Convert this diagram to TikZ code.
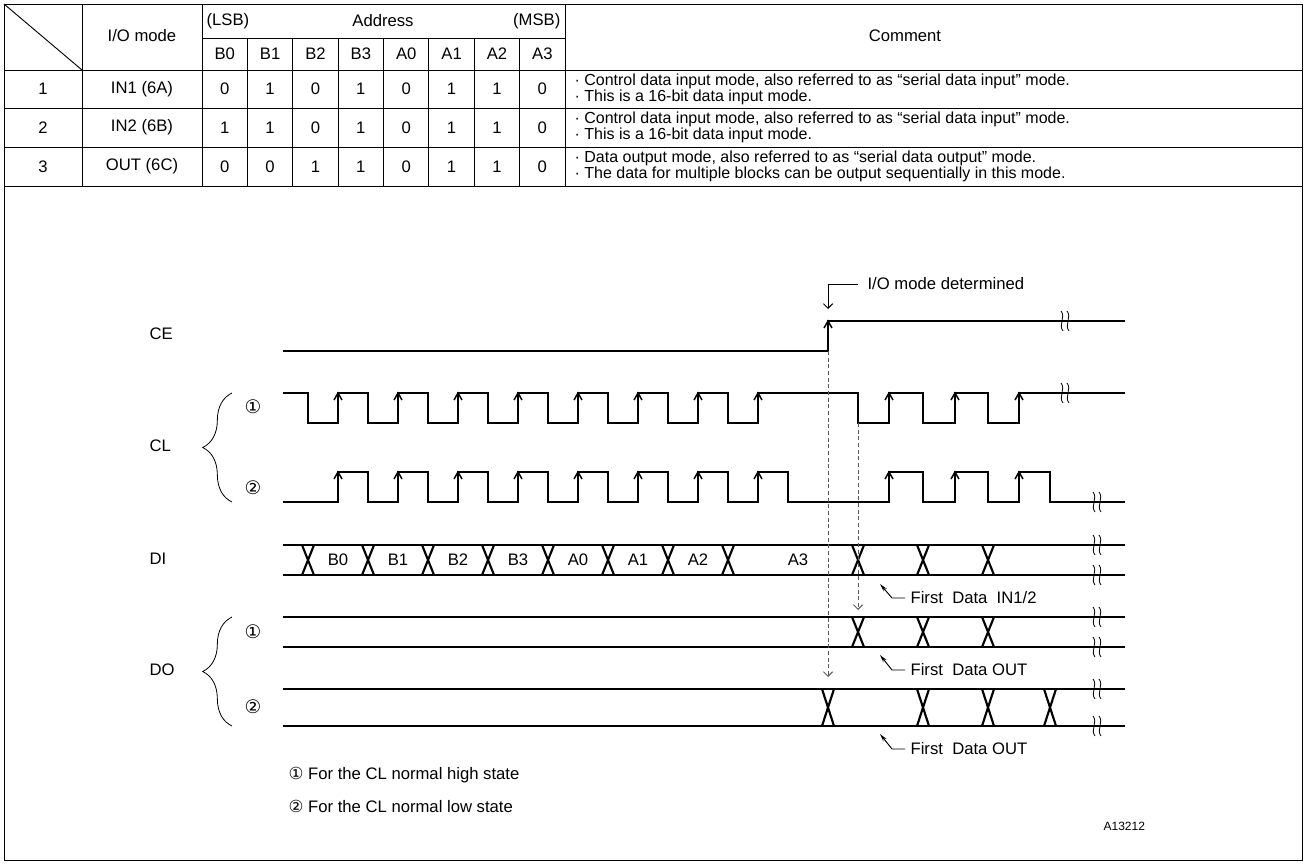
\documentclass[tikz,border=0pt]{standalone}
\usepackage{fontspec}
\setmainfont{Liberation Sans}
\newfontfamily\circfont{DejaVu Sans}
\usetikzlibrary{arrows.meta,decorations.pathreplacing}

\begin{document}
\begin{tikzpicture}[x=0.75pt, y=-0.75pt,
    font=\fontsize{12.5}{14}\selectfont,
    every node/.style={inner sep=1pt},
    rule/.style={line width=0.7pt},
    sig/.style={line width=1.6pt},
    guide/.style={densely dashed, line width=0.7pt, black!65, -{Straight Barb[length=3.5pt,width=7pt]}},
    leader/.style={line width=0.7pt},
    memo/.style={anchor=west, align=left, font=\fontsize{12}{11}\selectfont},
    tag/.style={anchor=west, inner xsep=4pt},
    circmark/.style={font=\circfont\fontsize{14}{14}\selectfont},
    lbrace/.style={decorate, decoration={brace, amplitude=22pt}, line width=0.6pt},
    upedge/.pic={\draw[line width=1.1pt] (-4,7) -- (0,0) -- (4,7);},
    brk/.pic={\foreach \dx in {-3,3} \draw[line width=0.6pt] ({\dx-1},-10) .. controls ({\dx+4},-4) and ({\dx-4},4) .. ({\dx+1},10);}]

  \useasboundingbox (0,0) rectangle (1308,864);

  % Frame
  \draw[rule] (4,4) rectangle (1302,860);

  % Table rules
  \draw[rule] (4,70) -- (1302,70) (4,108) -- (1302,108) (4,147) -- (1302,147) (4,186) -- (1302,186);
  \draw[rule] (202,38) -- (565,38);
  \draw[rule] (82,4) -- (82,186) (202,4) -- (202,186) (565,4) -- (565,186);
  \foreach \i in {1,...,7} \draw[rule] ({202+45.375*\i},38) -- ({202+45.375*\i},186);
  \draw[rule] (4,4) -- (82,70);

  % Header
  \node (modehead) at (142,36) {I/O mode};
  \node[anchor=west] (lsb) at (205,21) {(LSB)};
  \node (addrhead) at (383,21) {Address};
  \node[anchor=east] (msb) at (562,21) {(MSB)};
  \node (commenthead) at (905,36) {Comment};
  \foreach \b [count=\i from 0] in {B0,B1,B2,B3,A0,A1,A2,A3}
    \node (bit\i) at ({224.7+45.375*\i},54) {\b};

  % Row 1
  \node (num1) at (43,89) {1};
  \node (mode1) at (142,89) {IN1 (6A)};
  \foreach \v [count=\i from 0] in {0,1,0,1,0,1,1,0}
    \node (rowa\i) at ({224.7+45.375*\i},89) {\v};
  \node[memo] (note1) at (573,89) {· Control data input mode, also referred to as “serial data input” mode.\\· This is a 16-bit data input mode.};

  % Row 2
  \node (num2) at (43,127.5) {2};
  \node (mode2) at (142,127.5) {IN2 (6B)};
  \foreach \v [count=\i from 0] in {1,1,0,1,0,1,1,0}
    \node (rowb\i) at ({224.7+45.375*\i},127.5) {\v};
  \node[memo] (note2) at (573,127.5) {· Control data input mode, also referred to as “serial data input” mode.\\· This is a 16-bit data input mode.};

  % Row 3
  \node (num3) at (43,166.5) {3};
  \node (mode3) at (142,166.5) {OUT (6C)};
  \foreach \v [count=\i from 0] in {0,0,1,1,0,1,1,0}
    \node (rowc\i) at ({224.7+45.375*\i},166.5) {\v};
  \node[memo] (note3) at (573,166.5) {· Data output mode, also referred to as “serial data output” mode.\\· The data for multiple blocks can be output sequentially in this mode.};

  % Signal names
  \node[anchor=west] (ce) at (148,334) {CE};
  \node[anchor=west] (cl) at (148,446) {CL};
  \node[anchor=west] (di) at (148,559) {DI};
  \node[anchor=west] (do) at (148,670) {DO};
  \node[circmark] (clhigh) at (253,407) {①};
  \node[circmark] (cllow) at (253,488) {②};
  \node[circmark] (dohigh) at (253,632) {①};
  \node[circmark] (dolow) at (253,707) {②};
  \draw[lbrace] (232,502) -- (232,393);
  \draw[lbrace] (232,726) -- (232,617);

  % CE
  \draw[sig] (283,351) -- (828,351) -- (828,321) -- (1125,321);
  \pic at (828,321) {upedge};

  % CL, normal high
  \draw[sig] (283,393) \foreach \t in {308,368,...,728} { -- (\t,393) -- (\t,423) -- ({\t+30},423) -- ({\t+30},393) }
    \foreach \a/\b in {858/889,923/955,988/1019} { -- (\a,393) -- (\a,423) -- (\b,423) -- (\b,393) } -- (1125,393);
  \foreach \t in {338,398,458,518,578,638,698,758,889,955,1019} \pic at (\t,393) {upedge};

  % CL, normal low
  \draw[sig] (283,502) \foreach \t in {338,398,...,758} { -- (\t,502) -- (\t,472) -- ({\t+30},472) -- ({\t+30},502) }
    \foreach \a/\b in {889/923,955/988,1019/1050} { -- (\a,502) -- (\a,472) -- (\b,472) -- (\b,502) } -- (1125,502);
  \foreach \t in {338,398,458,518,578,638,698,758,889,955,1019} \pic at (\t,472) {upedge};

  % DI
  \draw[sig] (283,545) -- (1125,545) (283,575) -- (1125,575);
  \foreach \t in {308,368,428,488,548,608,668,728,858,923,988}
    \draw[sig] ({\t-6},545) -- ({\t+6},575) ({\t-6},575) -- ({\t+6},545);
  \foreach \b/\x [count=\i] in {B0/338,B1/398,B2/458,B3/518,A0/578,A1/638,A2/698,A3/798}
    \node (dibit\i) at (\x,560) {\b};

  % DO, normal high
  \draw[sig] (283,617) -- (1125,617) (283,647) -- (1125,647);
  \foreach \t in {858,923,988}
    \draw[sig] ({\t-6},617) -- ({\t+6},647) ({\t-6},647) -- ({\t+6},617);

  % DO, normal low
  \draw[sig] (283,689) -- (1125,689) (283,726) -- (1125,726);
  \foreach \t in {828,923,988,1050}
    \draw[sig] ({\t-6},689) -- ({\t+6},726) ({\t-6},726) -- ({\t+6},689);

  % Breaks
  \pic at (1065,321) {brk};
  \pic at (1065,393) {brk};
  \foreach \y in {502,545,575,617,647,689,726} \pic at (1097,\y) {brk};

  % Timing guides
  \coordinate (cerise) at (828,351);
  \coordinate (dolowstart) at (828,677);
  \coordinate (clfall) at (858,423);
  \coordinate (dohighstart) at (858,610);
  \draw[guide] (cerise) -- (dolowstart);
  \draw[guide] (clfall) -- (dohighstart);

  % Callouts
  \node[tag, inner xsep=7pt] (iolabel) at (858,284) {I/O mode determined};
  \coordinate (iotip) at (828,309);
  \draw[leader, -{Straight Barb[length=3.5pt,width=7pt]}] (iolabel.west) -| (iotip);
  \node[tag] (firstin) at (905,598) {First\ \ Data\ \ IN1/2};
  \coordinate (firstintip) at (880,584);
  \draw[leader, -{Stealth[length=6pt,width=3pt]}] (firstin.west) -- (892,598) -- (firstintip);
  \node[tag] (firstouta) at (905,670) {First\ \ Data OUT};
  \coordinate (firstoutatip) at (880,655);
  \draw[leader, -{Stealth[length=6pt,width=3pt]}] (firstouta.west) -- (892,670) -- (firstoutatip);
  \node[tag] (firstoutb) at (905,749) {First\ \ Data OUT};
  \coordinate (firstoutbtip) at (880,734);
  \draw[leader, -{Stealth[length=6pt,width=3pt]}] (firstoutb.west) -- (892,749) -- (firstoutbtip);

  % Legend
  \node[anchor=west] (legendhigh) at (287,775) {{\circfont ①} For the CL normal high state};
  \node[anchor=west] (legendlow) at (287,806) {{\circfont ②} For the CL normal low state};
  \node[anchor=west, font=\fontsize{9}{10}\selectfont] (drawno) at (1102,826) {A13212};
\end{tikzpicture}
\end{document}
